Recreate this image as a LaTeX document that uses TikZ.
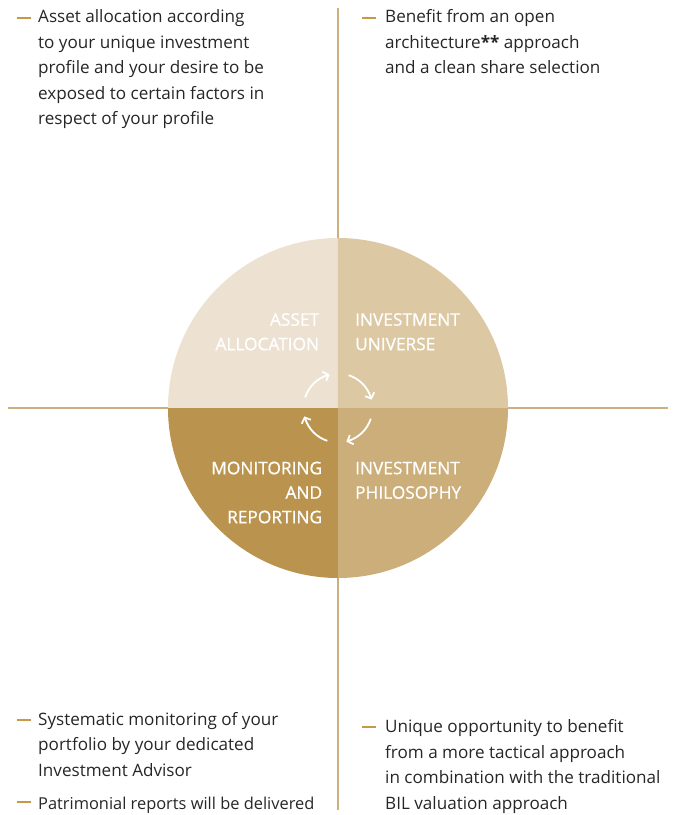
\documentclass[tikz,border=0pt]{standalone}
\usepackage{fontspec}
\setmainfont{Open Sans}
\newfontfamily\labelfont[FakeBold=0.8]{Open Sans}
\usetikzlibrary{arrows.meta, bending}

\definecolor{sandA}{HTML}{EDE2D1}
\definecolor{sandB}{HTML}{DCC8A2}
\definecolor{sandC}{HTML}{CBAE7A}
\definecolor{sandD}{HTML}{BA944F}
\definecolor{axisline}{HTML}{CBAF7D}
\definecolor{goldbar}{HTML}{C49A48}
\definecolor{bodytext}{HTML}{262626}

\begin{document}
\begin{tikzpicture}[x=1pt, y=1pt,
    item/.style={anchor=base west, align=left, inner sep=0pt, text=bodytext,
      font=\fontsize{17.1}{25.5}\selectfont},
    dashbar/.style={fill=goldbar, rectangle, inner sep=0pt, minimum width=14pt, minimum height=2pt},
    quadlabel/.style={inner sep=0pt, text=white, font=\labelfont\fontsize{17.3}{24.5}\selectfont},
    cyc/.style={white, line width=1.8pt, -{Straight Barb[length=4.5pt, width=10pt, bend]}}]
      \useasboundingbox (-338,-407) rectangle (350,408);
      \coordinate (c) at (0,0);
      %
      \draw[axisline, line width=1.3pt] (-330,0) -- (330,0);
      \draw[axisline, line width=1.3pt] (0,400) -- (0,-402);
      %
      \fill[sandA] (c) -- (90:170) arc (90:180:170) -- cycle;
      \fill[sandB] (c) -- (0:170) arc (0:90:170) -- cycle;
      \fill[sandC] (c) -- (270:170) arc (270:360:170) -- cycle;
      \fill[sandD] (c) -- (180:170) arc (180:270:170) -- cycle;
      %
      % base anchor = baseline of the last line
      \node[quadlabel, anchor=base east, align=right] (alloc) at (-18.7,57.8) {ASSET\\ALLOCATION};
      \node[quadlabel, anchor=base west, align=left] (universe) at (17,57.8) {INVESTMENT\\UNIVERSE};
      \node[quadlabel, anchor=base east, align=right] (monitor) at (-15.7,-115.2) {MONITORING\\AND\\REPORTING};
      \node[quadlabel, anchor=base west, align=left] (philo) at (17,-90.7) {INVESTMENT\\PHILOSOPHY};
      %
      \foreach \a in {0,90,180,270}
        \draw[cyc] (162-\a:34.5) arc (162-\a:104-\a:34.5);
      %
      \node[dashbar] (d1) at (-314,390) {};
      \node[item] (t1) at (-300,283.3) {Asset allocation according\\to your unique investment\\profile and your desire to be\\exposed to certain factors in\\respect of your profile};
      %
      \node[dashbar] (d2) at (31.5,390) {};
      \node[item] (t2) at (47,334.3) {Benefit from an open\\architecture\textbf{**} approach\\and a clean share selection};
      %
      \node[dashbar] (d3) at (-314,-312) {};
      \node[item] (t3) at (-300,-368) {Systematic monitoring of your\\portfolio by your dedicated\\Investment Advisor};
      \node[dashbar] (d4) at (-314,-394) {};
      \node[item, font=\fontsize{16.4}{25.5}\selectfont] (t4) at (-300,-401) {Patrimonial reports will be delivered};
      %
      \node[dashbar] (d5) at (31.5,-319) {};
      \node[item] (t5) at (47,-401) {Unique opportunity to benefit\\from a more tactical approach\\in combination with the traditional\\BIL valuation approach};
    \end{tikzpicture}
\end{document}
